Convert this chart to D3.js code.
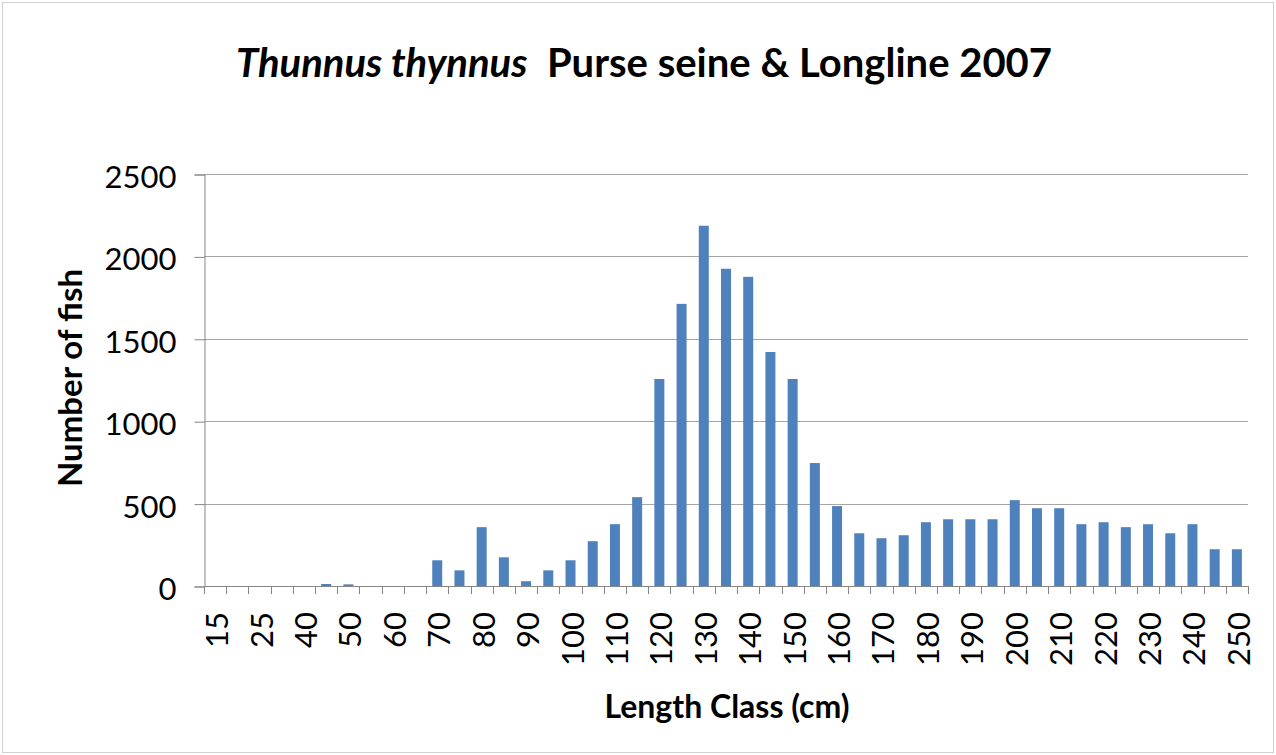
<!DOCTYPE html>
<html>
<head>
<meta charset="utf-8">
<script src="https://cdn.jsdelivr.net/npm/d3@7"></script>
<style>
  body { margin: 0; background: #fff; }
  svg { display: block; }
  text { font-family: Lato, "Liberation Sans", sans-serif; fill: #000; }
</style>
</head>
<body>
<svg id="chart" width="1276" height="755"></svg>
<script>
// length classes (cm) and counts
const lengthClasses = [15, 20, 25, 30, 40, 45, 50, 55, 60, 65, 70, 75, 80, 85, 90, 95, 100, 105, 110, 115,
  120, 125, 130, 135, 140, 145, 150, 155, 160, 165, 170, 175, 180, 185, 190, 195, 200, 205, 210, 215,
  220, 225, 230, 235, 240, 245, 250]
const fishCounts = [0, 0, 0, 0, 0, 12, 10, 0, 0, 0, 156, 95, 357, 174, 29, 95, 156, 272, 375, 539,
  1256, 1712, 2186, 1925, 1876, 1420, 1256, 746, 485, 320, 290, 308, 387, 405, 405, 405, 521, 472, 472, 375,
  387, 357, 375, 320, 375, 223, 223]
const yTicks = [0, 500, 1000, 1500, 2000, 2500]

const svg = d3.select("#chart")
const full_width = 1276
const full_height = 755

// chart border
svg.append("rect")
  .attr("x", 2.5).attr("y", 2.5)
  .attr("width", full_width - 5).attr("height", full_height - 5)
  .attr("fill", "#fff")
  .attr("stroke", "#d0d0d0")

const plotLeft = 204, plotRight = 1248, plotTop = 174, plotBottom = 586

const x = d3.scaleBand()
  .domain(lengthClasses)
  .range([plotLeft, plotRight])
  .paddingInner(0.55)
  .paddingOuter(0.275)

const y = d3.scaleLinear()
  .domain([0, 2500])
  .range([plotBottom, plotTop])

// gridlines
svg.append("g")
  .selectAll("line")
  .data(yTicks.slice(1))
  .enter()
  .append("line")
  .attr("x1", plotLeft).attr("x2", plotRight)
  .attr("y1", d => Math.round(y(d)) + 0.5)
  .attr("y2", d => Math.round(y(d)) + 0.5)
  .attr("stroke", "#a6a6a6")

// bars
svg.append("g")
  .selectAll("rect")
  .data(lengthClasses)
  .enter()
  .append("rect")
  .attr("x", (d) => x(d))
  .attr("width", x.bandwidth())
  .attr("y", (d, i) => y(fishCounts[i]))
  .attr("height", (d, i) => plotBottom - y(fishCounts[i]))
  .attr("fill", "#4f81bd")

// y axis
const yaxis = d3.axisLeft(y).tickValues(yTicks).tickFormat(d3.format("d")).tickSize(10).tickPadding(18)
const yg = svg.append("g")
  .attr("transform", `translate(${plotLeft + 0.5}, 0.5)`)
  .call(yaxis)
yg.select(".domain").attr("stroke", "#868686")
yg.selectAll(".tick line").attr("stroke", "#868686")
yg.selectAll(".tick text")
  .attr("font-size", "31px")
  .attr("font-family", "Lato, sans-serif")
  .attr("fill", "#000")
  .attr("dy", "0.42em")

// x axis: ticks at category boundaries
const step = x.step()
const boundaries = d3.range(lengthClasses.length + 1).map(i => plotLeft + i * step)
const xg = svg.append("g")
xg.append("line")
  .attr("x1", plotLeft).attr("x2", plotRight)
  .attr("y1", plotBottom + 0.5).attr("y2", plotBottom + 0.5)
  .attr("stroke", "#868686")
xg.selectAll(".xtick")
  .data(boundaries)
  .enter()
  .append("line")
  .attr("x1", d => Math.round(d) + 0.5).attr("x2", d => Math.round(d) + 0.5)
  .attr("y1", plotBottom).attr("y2", plotBottom + 8)
  .attr("stroke", "#868686")

// every other label
xg.selectAll(".xlabel")
  .data(lengthClasses.filter((d, i) => i % 2 === 0))
  .enter()
  .append("text")
  .attr("transform", d => `translate(${x(d) + x.bandwidth() / 2 + 13}, 612) rotate(-90)`)
  .attr("text-anchor", "end")
  .attr("font-size", "31px")
  .text(d => d)

// title
const title = svg.append("text")
  .attr("x", 644)
  .attr("y", 77)
  .attr("text-anchor", "middle")
  .attr("font-size", "40px")
  .attr("font-weight", "bold")
title.append("tspan").attr("font-style", "italic").text("Thunnus thynnus")
title.append("tspan").text("\u00a0 Purse seine & Longline 2007")

// axis titles
svg.append("text")
  .attr("x", 727)
  .attr("y", 718)
  .attr("text-anchor", "middle")
  .attr("font-size", "32px")
  .attr("font-weight", "bold")
  .text("Length Class (cm)")

svg.append("text")
  .attr("transform", `translate(82, 378) rotate(-90)`)
  .attr("text-anchor", "middle")
  .attr("font-size", "33px")
  .attr("font-weight", "bold")
  .text("Number of fish")
</script>
</body>
</html>
